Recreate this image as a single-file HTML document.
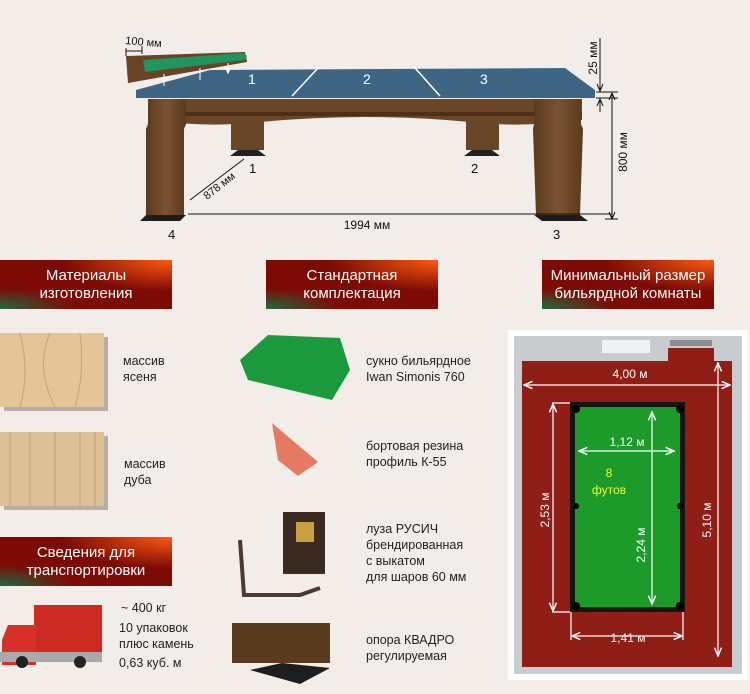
<!DOCTYPE html>
<html><head><meta charset="utf-8"><style>
body{margin:0;width:750px;height:694px;background:#f2ede9;position:relative;overflow:hidden;font-family:"Liberation Sans",sans-serif;}
.a{position:absolute;}
.hd{position:absolute;width:172px;height:49px;color:#fff;font-size:15px;line-height:18px;text-align:center;display:flex;align-items:center;justify-content:center;
background:radial-gradient(ellipse at 100% 0%,#ff5a10 0%,rgba(255,80,10,0) 45%),radial-gradient(ellipse at 0% 100%,#1f6a40 0%,rgba(30,100,60,0) 30%),#7c0b06;}
.t{position:absolute;font-size:12.5px;line-height:16px;color:#222;}
</style></head><body>
<svg class="a" style="left:0;top:0" width="750" height="694">
<defs>
<linearGradient id="wood" x1="0" y1="0" x2="1" y2="0"><stop offset="0" stop-color="#5a3a1e"/><stop offset=".5" stop-color="#7a5332"/><stop offset="1" stop-color="#5a3a1e"/></linearGradient>
<marker id="ar" markerWidth="8" markerHeight="8" refX="7" refY="4" orient="auto-start-reverse"><path d="M0,1 L7,4 L0,7" fill="none" stroke="#111" stroke-width="1"/></marker>
<marker id="aw" markerWidth="8" markerHeight="8" refX="7" refY="4" orient="auto-start-reverse"><path d="M0,1 L7,4 L0,7" fill="none" stroke="#fff" stroke-width="1.2"/></marker>
</defs>
<!-- table -->
<path d="M150,99 H582 V120 Q520,128 470,122 Q367,112 260,122 Q210,128 150,120Z" fill="#6b4527"/>
<rect x="150" y="112" width="432" height="4" fill="#4d301a"/>
<rect x="231" y="118" width="33" height="32" fill="#6a4628"/>
<rect x="466" y="118" width="33" height="32" fill="#6a4628"/>
<path d="M238,150 h20 l8,6 h-36z M472,150 h20 l8,6 h-36z" fill="#222"/>
<path d="M148,99 h38 v25 l-2,5 v86 h-38 v-86 l2,-5z" fill="url(#wood)"/>
<path d="M534,99 h47 v25 l2,5 l-3,86 h-44 l-3,-86 l1,-5z" fill="url(#wood)"/>
<path d="M146,215 h40 l-6,6 h-40z M534,215 h46 l8,6 h-46z" fill="#1d1d1d"/>
<path d="M136,90 L210,70 L565,68 L595,90 V98 H136Z" fill="#3f6585"/>
<path d="M292,96 L318,68 M440,96 L415,68" stroke="#fff" stroke-width="1.5"/>
<text x="248" y="84" fill="#fff" font-size="14" font-family="Liberation Sans">1</text>
<text x="363" y="84" fill="#fff" font-size="14" font-family="Liberation Sans">2</text>
<text x="480" y="84" fill="#fff" font-size="14" font-family="Liberation Sans">3</text>
<!-- rail -->
<path d="M126,56 L245,52 L247,62 L128,83 Z" fill="#6a4327"/>
<path d="M143,60 L243,53 Q250,56 244,60 L145,72Z" fill="#1f9560"/>
<path d="M164,74 v12 M200,68 v12 M228,63 v10" stroke="#fff" stroke-width="1" marker-end="url(#aw)"/>
<path d="M126,48 v8 M142,46 v8 M126,51 L142,51" stroke="#111" stroke-width="1"/>
<text x="125" y="44" font-size="11" fill="#111" font-family="Liberation Sans" transform="rotate(5 125 44)">100 мм</text>
<!-- dims -->
<line x1="612" y1="93" x2="612" y2="219" stroke="#111" marker-start="url(#ar)" marker-end="url(#ar)"/>
<line x1="596" y1="92" x2="618" y2="92" stroke="#111"/>
<line x1="596" y1="98" x2="618" y2="98" stroke="#111"/>
<line x1="605" y1="219" x2="618" y2="219" stroke="#111"/>
<line x1="600" y1="38" x2="600" y2="91" stroke="#111" marker-end="url(#ar)"/>
<line x1="600" y1="112" x2="600" y2="99" stroke="#111" marker-end="url(#ar)"/>
<text transform="translate(597,58) rotate(-90)" font-size="12" text-anchor="middle" font-family="Liberation Sans" fill="#111">25 мм</text>
<text transform="translate(627,152) rotate(-90)" font-size="12" text-anchor="middle" font-family="Liberation Sans" fill="#111">800 мм</text>
<line x1="188" y1="214" x2="612" y2="214" stroke="#111"/>
<line x1="190" y1="200" x2="244" y2="159" stroke="#111"/>
<text transform="translate(207,200) rotate(-38)" font-size="11" font-family="Liberation Sans" fill="#111">878 мм</text>
<text x="367" y="229" font-size="12" text-anchor="middle" font-family="Liberation Sans" fill="#111">1994 мм</text>
<text x="168" y="239" font-size="13" font-family="Liberation Sans" fill="#111">4</text>
<text x="553" y="239" font-size="13" font-family="Liberation Sans" fill="#111">3</text>
<text x="249" y="173" font-size="13" font-family="Liberation Sans" fill="#111">1</text>
<text x="471" y="173" font-size="13" font-family="Liberation Sans" fill="#111">2</text>
<!-- wood samples -->
<rect x="4" y="337" width="104" height="74" fill="#b8aea4"/>
<rect x="4" y="436" width="104" height="74" fill="#b8aea4"/>
<rect x="0" y="333" width="104" height="74" fill="#e5c49a"/>
<rect x="0" y="432" width="104" height="74" fill="#ddc096"/>
<path d="M20,333 q10,40 0,74 M50,333 q-15,35 5,74 M80,333 q5,40 -5,74" stroke="#c9a272" fill="none"/>
<path d="M10,432 v74 M30,432 v74 M55,432 v74 M80,432 v74 M95,432 v74" stroke="#c5a276" fill="none"/>
<!-- truck -->
<rect x="34" y="605" width="68" height="50" fill="#cc2a22"/>
<path d="M8,625 h28 v40 h-34 v-25z" fill="#d5302a"/>
<rect x="0" y="652" width="102" height="10" fill="#aaa"/>
<circle cx="22" cy="662" r="6" fill="#222"/><circle cx="80" cy="662" r="6" fill="#222"/>
<!-- cloth -->
<path d="M240,360 L268,335 L340,338 L350,370 L332,400 L248,380Z" fill="#1a9a3c"/>
<!-- rubber -->
<path d="M272,423 L318,462 L298,476 L278,460 Z" fill="#e47a62"/>
<!-- pocket -->
<rect x="283" y="512" width="42" height="62" fill="#3a2a20"/>
<rect x="296" y="522" width="18" height="20" fill="#c9a040"/>
<path d="M240,540 L244,595 L300,595 L320,588" stroke="#4a3a30" stroke-width="4" fill="none"/>
<!-- opora -->
<rect x="232" y="623" width="98" height="40" fill="#5b3b1f"/>
<path d="M250,670 L282,663 L330,668 L300,684Z" fill="#1e1e1e"/>
<!-- room -->
<rect x="508" y="330" width="240" height="350" fill="#fff"/>
<rect x="514" y="336" width="228" height="338" fill="#c8cccf"/>
<rect x="522" y="361" width="210" height="306" fill="#8e1e16"/>
<rect x="668" y="348" width="46" height="14" fill="#8e1e16"/>
<rect x="670" y="340" width="42" height="6" fill="#8a8e92"/>
<rect x="602" y="340" width="48" height="13" fill="#eef2f4"/>
<rect x="570" y="402" width="115" height="210" fill="#151515"/>
<rect x="575" y="407" width="105" height="200" fill="#1c9a2a"/>
<circle cx="576" cy="409" r="4" fill="#000"/><circle cx="680" cy="409" r="4" fill="#000"/>
<circle cx="576" cy="506" r="3" fill="#000"/><circle cx="680" cy="506" r="3" fill="#000"/>
<circle cx="576" cy="606" r="4" fill="#000"/><circle cx="680" cy="606" r="4" fill="#000"/>
<g stroke="#fff" stroke-width="1.2" fill="none">
<line x1="524" y1="385" x2="730" y2="385" marker-start="url(#aw)" marker-end="url(#aw)"/>
<line x1="718" y1="363" x2="718" y2="656" marker-start="url(#aw)" marker-end="url(#aw)"/>
<line x1="553" y1="404" x2="553" y2="611" marker-start="url(#aw)" marker-end="url(#aw)"/>
<line x1="552" y1="403" x2="570" y2="403"/><line x1="552" y1="612" x2="570" y2="612"/>
<line x1="571" y1="612" x2="571" y2="640"/><line x1="683" y1="612" x2="683" y2="640"/>
<line x1="572" y1="636" x2="682" y2="636" marker-start="url(#aw)" marker-end="url(#aw)"/>
<line x1="579" y1="451" x2="674" y2="451" marker-start="url(#aw)" marker-end="url(#aw)"/>
<line x1="652" y1="412" x2="652" y2="604" marker-start="url(#aw)" marker-end="url(#aw)"/>
</g>
<g fill="#fff" font-family="Liberation Sans" font-size="12" text-anchor="middle">
<text x="630" y="378">4,00 м</text>
<text x="627" y="446">1,12 м</text>
<text x="628" y="642">1,41 м</text>
<text transform="translate(711,520) rotate(-90)">5,10 м</text>
<text transform="translate(549,510) rotate(-90)">2,53 м</text>
<text transform="translate(645,545) rotate(-90)">2,24 м</text>
</g>
<text x="609" y="477" fill="#e8ff30" font-size="12" text-anchor="middle" font-family="Liberation Sans">8</text>
<text x="609" y="494" fill="#e8ff30" font-size="12" text-anchor="middle" font-family="Liberation Sans">футов</text>
</svg>
<div class="hd" style="left:0;top:260px">Материалы<br>изготовления</div>
<div class="hd" style="left:266px;top:260px">Стандартная<br>комплектация</div>
<div class="hd" style="left:542px;top:260px">Минимальный размер<br>бильярдной комнаты</div>
<div class="hd" style="left:0;top:537px">Сведения для<br>транспортировки</div>
<div class="t" style="left:123px;top:353px">массив<br>ясеня</div>
<div class="t" style="left:124px;top:456px">массив<br>дуба</div>
<div class="t" style="left:121px;top:599px;line-height:18px">~ 400 кг</div>
<div class="t" style="left:119px;top:620px">10 упаковок<br>плюс камень</div>
<div class="t" style="left:119px;top:655px">0,63 куб. м</div>
<div class="t" style="left:366px;top:353px">сукно бильярдное<br>Iwan Simonis 760</div>
<div class="t" style="left:366px;top:438px">бортовая резина<br>профиль К-55</div>
<div class="t" style="left:366px;top:521px">луза РУСИЧ<br>брендированная<br>с выкатом<br>для шаров 60 мм</div>
<div class="t" style="left:366px;top:632px">опора КВАДРО<br>регулируемая</div>
</body></html>
